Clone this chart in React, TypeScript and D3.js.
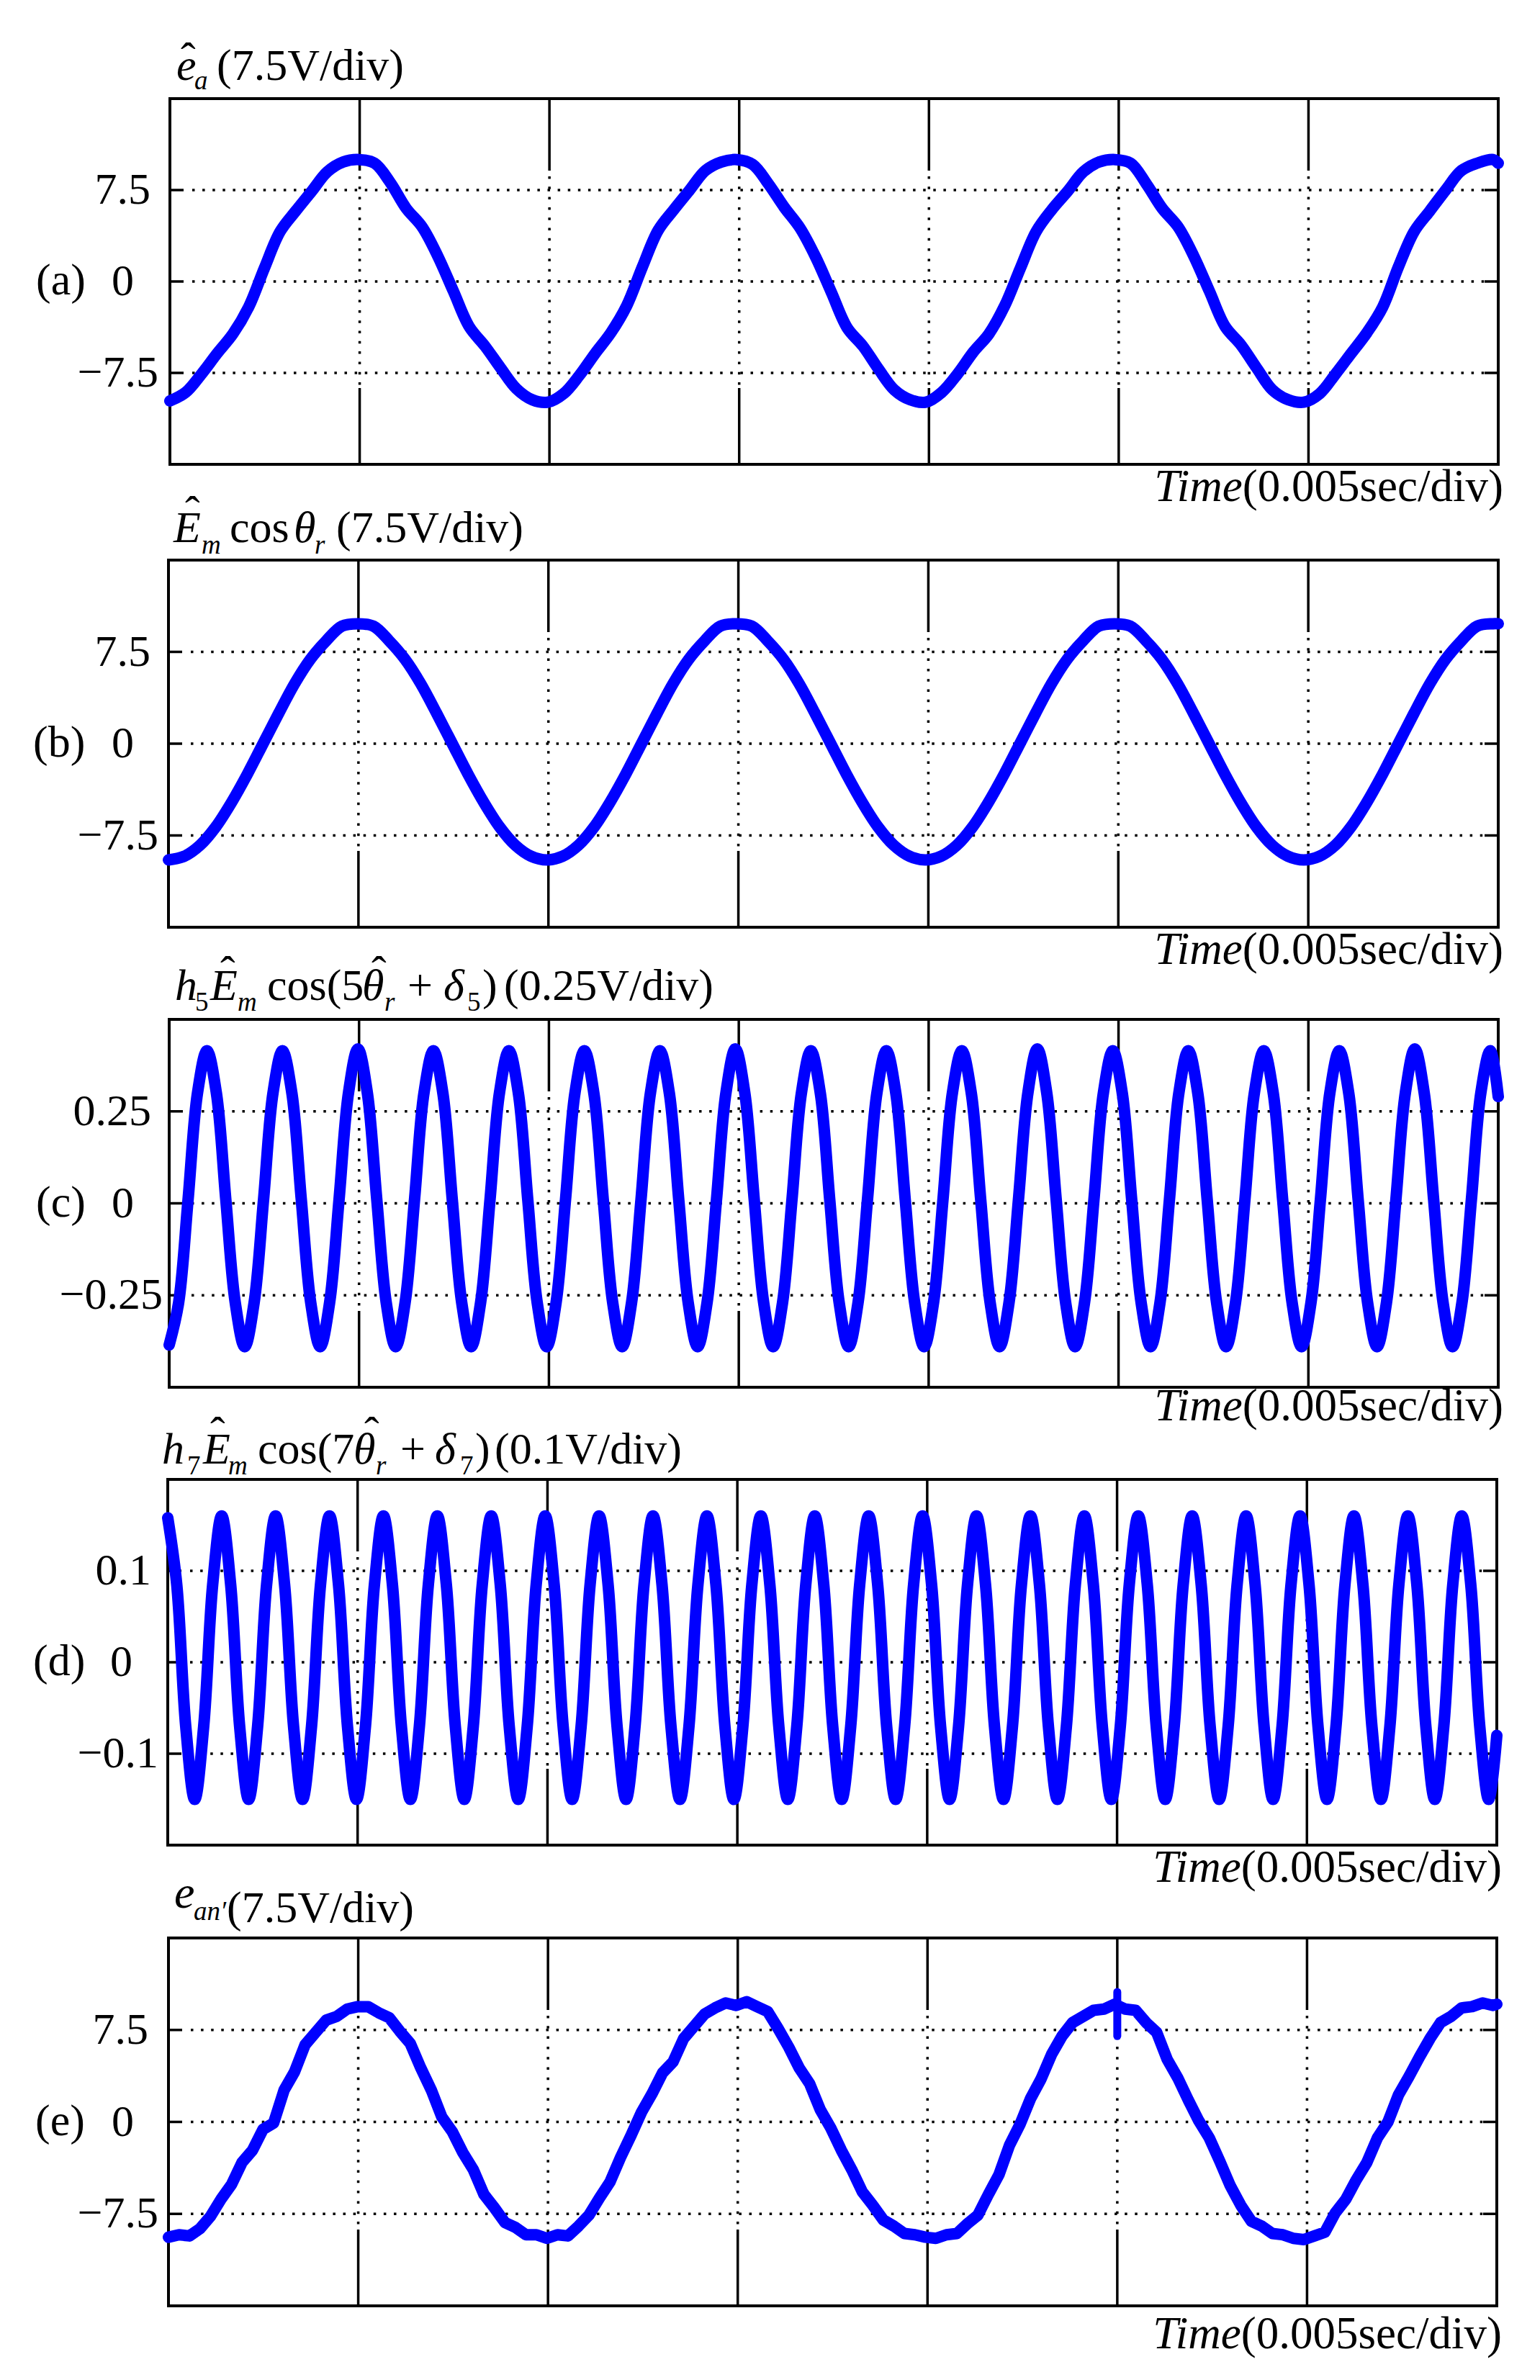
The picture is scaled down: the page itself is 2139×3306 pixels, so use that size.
import React from "react";
import * as d3 from "d3";

const timeDivs = [0, 1, 2, 3, 4, 5, 6, 7];

const eaValues = [
  -9.8, -9.1, -7.6, -5.9, -4.3, -2.1, 1.1, 4.1, 5.8, 7.4, 9.0, 9.8,
  10.0, 9.7, 8.1, 6.0, 4.5, 2.1, -0.8, -3.7, -5.3, -7.1, -8.8, -9.7,
  -9.9, -9.2, -7.7, -5.9, -4.2, -2.0, 1.2, 4.2, 5.9, 7.5, 9.1, 9.8,
  10.0, 9.6, 8.0, 6.1, 4.4, 2.0, -0.9, -3.8, -5.3, -7.2, -8.9, -9.7,
  -9.9, -9.1, -7.6, -5.8, -4.3, -2.0, 1.1, 4.1, 5.9, 7.4, 9.0, 9.8,
  10.0, 9.7, 8.0, 6.0, 4.5, 2.1, -0.8, -3.7, -5.2, -7.1, -8.9, -9.7,
  -9.9, -9.2, -7.6, -5.9, -4.2, -2.1, 1.2, 4.1, 5.8, 7.5, 9.1, 9.7,
  10.0, 9.7,
];

const emCosValues = [
  -9.5, -9.2, -8.3, -6.8, -4.8, -2.5, 0.0, 2.5, 4.9, 6.9, 8.4, 9.6,
  9.8, 9.6, 8.4, 6.9, 4.9, 2.5, 0.0, -2.5, -4.8, -6.8, -8.3, -9.2,
  -9.5, -9.2, -8.3, -6.8, -4.8, -2.5, 0.0, 2.5, 4.9, 6.9, 8.4, 9.6,
  9.8, 9.6, 8.4, 6.9, 4.9, 2.5, 0.0, -2.5, -4.8, -6.8, -8.3, -9.2,
  -9.5, -9.2, -8.3, -6.8, -4.8, -2.5, 0.0, 2.5, 4.9, 6.9, 8.4, 9.6,
  9.8, 9.6, 8.4, 6.9, 4.9, 2.5, 0.0, -2.5, -4.8, -6.8, -8.3, -9.2,
  -9.5, -9.2, -8.3, -6.8, -4.8, -2.5, 0.0, 2.5, 4.9, 6.9, 8.4, 9.6,
  9.8, 9.8,
];

const h5Values = [
  -0.385, -0.27, 0.01, 0.3, 0.415, 0.3, 0.01, -0.27,
  -0.39, -0.27, 0.01, 0.3, 0.415, 0.3, 0.01, -0.27,
  -0.39, -0.27, 0.01, 0.3, 0.42, 0.3, 0.01, -0.27,
  -0.39, -0.27, 0.01, 0.3, 0.415, 0.3, 0.01, -0.27,
  -0.39, -0.27, 0.01, 0.3, 0.415, 0.3, 0.01, -0.27,
  -0.39, -0.27, 0.01, 0.3, 0.415, 0.3, 0.01, -0.27,
  -0.39, -0.27, 0.01, 0.3, 0.415, 0.3, 0.01, -0.27,
  -0.39, -0.27, 0.01, 0.3, 0.42, 0.3, 0.01, -0.27,
  -0.39, -0.27, 0.01, 0.3, 0.415, 0.3, 0.01, -0.27,
  -0.39, -0.27, 0.01, 0.3, 0.415, 0.3, 0.01, -0.27,
  -0.39, -0.27, 0.01, 0.3, 0.415, 0.3, 0.01, -0.27,
  -0.39, -0.27, 0.01, 0.3, 0.42, 0.3, 0.01, -0.27,
  -0.39, -0.27, 0.01, 0.3, 0.415, 0.3, 0.01, -0.27,
  -0.39, -0.27, 0.01, 0.3, 0.415, 0.3, 0.01, -0.27,
  -0.39, -0.27, 0.01, 0.3, 0.415, 0.3, 0.01, -0.27,
  -0.39, -0.27, 0.01, 0.3, 0.415, 0.3, 0.01, -0.27,
  -0.39, -0.27, 0.01, 0.3, 0.42, 0.3, 0.01, -0.27,
  -0.39, -0.27, 0.01, 0.3, 0.415, 0.29,
];

const h7Values = [
  0.158, 0.085, -0.07, -0.15, -0.07, 0.085,
  0.16, 0.085, -0.07, -0.15, -0.07, 0.085,
  0.16, 0.085, -0.07, -0.15, -0.07, 0.085,
  0.16, 0.085, -0.07, -0.15, -0.07, 0.085,
  0.16, 0.085, -0.07, -0.15, -0.07, 0.085,
  0.16, 0.085, -0.07, -0.15, -0.07, 0.085,
  0.16, 0.085, -0.07, -0.15, -0.07, 0.085,
  0.16, 0.085, -0.07, -0.15, -0.07, 0.085,
  0.16, 0.085, -0.07, -0.15, -0.07, 0.085,
  0.16, 0.085, -0.07, -0.15, -0.07, 0.085,
  0.16, 0.085, -0.07, -0.15, -0.07, 0.085,
  0.16, 0.085, -0.07, -0.15, -0.07, 0.085,
  0.16, 0.085, -0.07, -0.15, -0.07, 0.085,
  0.16, 0.085, -0.07, -0.15, -0.07, 0.085,
  0.16, 0.085, -0.07, -0.15, -0.07, 0.085,
  0.16, 0.085, -0.07, -0.15, -0.07, 0.085,
  0.16, 0.085, -0.07, -0.15, -0.07, 0.085,
  0.16, 0.085, -0.07, -0.15, -0.07, 0.085,
  0.16, 0.085, -0.07, -0.15, -0.07, 0.085,
  0.16, 0.085, -0.07, -0.15, -0.07, 0.085,
  0.16, 0.085, -0.07, -0.15, -0.07, 0.085,
  0.16, 0.085, -0.07, -0.15, -0.07, 0.085,
  0.16, 0.085, -0.07, -0.15, -0.07, 0.085,
  0.16, 0.085, -0.07, -0.15, -0.07, 0.085,
  0.16, 0.085, -0.07, -0.15, -0.08,
];

const eanValues = [
  -9.4, -9.2, -9.3, -8.7, -7.7, -6.3, -5.1, -3.3, -2.3, -0.6, -0.1, 2.6,
  4.1, 6.3, 7.3, 8.3, 8.6, 9.2, 9.4, 9.4, 8.9, 8.5, 7.4, 6.4,
  4.4, 2.6, 0.4, -0.8, -2.5, -3.9, -5.9, -7.0, -8.2, -8.6, -9.2, -9.2,
  -9.5, -9.2, -9.3, -8.5, -7.6, -6.2, -4.9, -2.9, -1.1, 0.8, 2.3, 4.0,
  4.9, 6.8, 7.8, 8.8, 9.3, 9.7, 9.5, 9.8, 9.4, 9.0, 7.6, 6.1,
  4.4, 3.1, 1.0, -0.5, -2.3, -3.9, -5.7, -6.8, -8.0, -8.5, -9.1, -9.2,
  -9.4, -9.5, -9.2, -9.1, -8.3, -7.6, -5.9, -4.3, -1.9, -0.2, 1.9, 3.5,
  5.5, 7.0, 8.1, 8.6, 9.1, 9.2, 9.6, 9.2, 9.1, 8.1, 7.3, 5.1,
  3.6, 1.8, 0.1, -1.3, -3.2, -5.2, -6.8, -8.1, -8.5, -9.1, -9.2, -9.5,
  -9.6, -9.3, -9.0, -7.4, -6.3, -4.7, -3.3, -1.3, 0.0, 2.2, 3.7, 5.3,
  6.8, 8.1, 8.6, 9.3, 9.4, 9.7, 9.5, 9.6,
];
const eanSpikeTimes = [5, 5];
const eanSpikeValues = [10.6, 7.0];

const panelLetters = ["(a)", "(b)", "(c)", "(d)", "(e)"];
const yTicksA = ["7.5", "0", "\u22127.5"];
const yTicksC = ["0.25", "0", "\u22120.25"];
const yTicksD = ["0.1", "0", "\u22120.1"];
const gridStepA = 7.5;
const gridStepC = 0.25;
const gridStepD = 0.1;

type Piece = { t: string; x: number; y: number; s?: number; i?: boolean };
const MAIN = 62;
const TIME_SIZE = 63;
const SUB = 37;

const titleA: Piece[] = [
  { t: "e", x: 245, y: 111, i: true },
  { t: "\u02c6", x: 251, y: 102 },
  { t: "a", x: 270, y: 124, s: SUB, i: true },
  { t: "(7.5V/div)", x: 301, y: 111 },
];
const titleB: Piece[] = [
  { t: "E", x: 241, y: 753, i: true },
  { t: "\u02c6", x: 257, y: 732 },
  { t: "m", x: 280, y: 769, s: SUB, i: true },
  { t: "cos", x: 319, y: 753 },
  { t: "\u03b8", x: 408, y: 753, i: true },
  { t: "r", x: 437, y: 769, s: SUB, i: true },
  { t: "(7.5V/div)", x: 467, y: 753 },
];
const titleC: Piece[] = [
  { t: "h", x: 243, y: 1389, i: true },
  { t: "5", x: 271, y: 1404, s: SUB },
  { t: "E", x: 292, y: 1389, i: true },
  { t: "\u02c6", x: 306, y: 1371 },
  { t: "m", x: 330, y: 1404, s: SUB, i: true },
  { t: "cos(5", x: 371, y: 1389 },
  { t: "\u03b8", x: 503, y: 1389, i: true },
  { t: "\u02c6", x: 516, y: 1371 },
  { t: "r", x: 534, y: 1404, s: SUB, i: true },
  { t: "+", x: 566, y: 1389 },
  { t: "\u03b4", x: 616, y: 1389, i: true },
  { t: "5", x: 649, y: 1404, s: SUB },
  { t: ")", x: 670, y: 1389 },
  { t: "(0.25V/div)", x: 700, y: 1389 },
];
const titleD: Piece[] = [
  { t: "h", x: 225, y: 2033, i: true },
  { t: "7", x: 260, y: 2048, s: SUB },
  { t: "E", x: 282, y: 2033, i: true },
  { t: "\u02c6", x: 292, y: 2011 },
  { t: "m", x: 317, y: 2048, s: SUB, i: true },
  { t: "cos(7", x: 358, y: 2033 },
  { t: "\u03b8", x: 491, y: 2033, i: true },
  { t: "\u02c6", x: 506, y: 2011 },
  { t: "r", x: 522, y: 2048, s: SUB, i: true },
  { t: "+", x: 556, y: 2033 },
  { t: "\u03b4", x: 604, y: 2033, i: true },
  { t: "7", x: 639, y: 2048, s: SUB },
  { t: ")", x: 660, y: 2033 },
  { t: "(0.1V/div)", x: 687, y: 2033 },
];
const titleE: Piece[] = [
  { t: "e", x: 242, y: 2650, s: 64, i: true },
  { t: "an\u2032", x: 269, y: 2667, s: SUB, i: true },
  { t: "(7.5V/div)", x: 315, y: 2670 },
];

const panels = [
  { values: eaValues, step: 0.083, dom: 15, grid: gridStepA, ticks: yTicksA, x0: 236, x1: 2081, y0: 137, y1: 645, title: titleA, timeY: 696, timeR: 2088, lx: 50, r: [209, 186, 220], curve: d3.curveCatmullRom },
  { values: emCosValues, step: 0.083, dom: 15, grid: gridStepA, ticks: yTicksA, x0: 234, x1: 2081, y0: 778, y1: 1288, title: titleB, timeY: 1339, timeR: 2088, lx: 46, r: [209, 186, 220], curve: d3.curveCatmullRom },
  { values: h5Values, step: 0.0497, dom: 0.5, grid: gridStepC, ticks: yTicksC, x0: 235, x1: 2081, y0: 1416, y1: 1927, title: titleC, timeY: 1973, timeR: 2088, lx: 50, r: [210, 186, 226], curve: d3.curveCatmullRom },
  { values: h7Values, step: 0.04733, dom: 0.2, grid: gridStepD, ticks: yTicksD, x0: 233, x1: 2079, y0: 2055, y1: 2563, title: titleD, timeY: 2614, timeR: 2086, lx: 46, r: [210, 184, 220], curve: d3.curveCatmullRom },
  { values: eanValues, step: 0.0554, dom: 15, grid: gridStepA, ticks: yTicksA, x0: 234, x1: 2079, y0: 2692, y1: 3203, title: titleE, timeY: 3262, timeR: 2086, lx: 49, r: [206, 186, 220], curve: d3.curveLinear },
];

const FONT = '"Liberation Serif", "Times New Roman", serif';
const BLUE = "#0000ff";

function Panel({ p, idx }: { p: (typeof panels)[number]; idx: number }) {
  const x = d3.scaleLinear().domain([0, 7]).range([p.x0, p.x1]);
  const y = d3.scaleLinear().domain([-p.dom, p.dom]).range([p.y1, p.y0]);
  const line = d3
    .line<number>()
    .x((_, i) => x(Math.min(i * p.step, 7)))
    .y((v) => y(v))
    .curve(p.curve);
  const gridVals = [p.grid, 0, -p.grid];
  const inner = timeDivs.slice(1, 7);
  const spike = idx === 4;
  const topTick = 100;
  const botTick = 106;
  const yTick = 19;
  return (
    <g fontFamily={FONT} fill="#000">
      {gridVals.map((g) => (
        <g key={g}>
          <line x1={p.x0 + yTick + 12} x2={p.x1 - yTick} y1={y(g)} y2={y(g)} stroke="#000" strokeWidth={3.5} strokeDasharray="3.5 10.6" />
          <line x1={p.x0} x2={p.x0 + yTick} y1={y(g)} y2={y(g)} stroke="#000" strokeWidth={3.5} />
          <line x1={p.x1 - yTick} x2={p.x1} y1={y(g)} y2={y(g)} stroke="#000" strokeWidth={3.5} />
        </g>
      ))}
      {inner.map((d) => (
        <g key={d}>
          <line x1={x(d)} x2={x(d)} y1={p.y0 + topTick + 8} y2={p.y1 - botTick} stroke="#000" strokeWidth={3.5} strokeDasharray="3.5 10.8" />
          <line x1={x(d)} x2={x(d)} y1={p.y0} y2={p.y0 + topTick} stroke="#000" strokeWidth={3.5} />
          <line x1={x(d)} x2={x(d)} y1={p.y1 - botTick} y2={p.y1} stroke="#000" strokeWidth={3.5} />
        </g>
      ))}
      <rect x={p.x0} y={p.y0} width={p.x1 - p.x0} height={p.y1 - p.y0} fill="none" stroke="#000" strokeWidth={4} />
      <path d={line(p.values) ?? ""} fill="none" stroke={BLUE} strokeWidth={16} strokeLinecap="round" strokeLinejoin="round" />
      {spike && (
        <line x1={x(eanSpikeTimes[0])} x2={x(eanSpikeTimes[1])} y1={y(eanSpikeValues[0])} y2={y(eanSpikeValues[1])} stroke={BLUE} strokeWidth={11} strokeLinecap="round" />
      )}
      {p.ticks.map((t, i) => (
        <text key={t} x={p.r[i]} y={y(gridVals[i]) + 19} textAnchor="end" fontSize={MAIN}>
          {t}
        </text>
      ))}
      <text x={p.lx} y={y(0) + 18} fontSize={MAIN}>
        {panelLetters[idx]}
      </text>
      <text fontSize={MAIN}>
        {p.title.map((c, i) => (
          <tspan key={i} x={c.x} y={c.y} fontSize={c.s ?? MAIN} fontStyle={c.i ? "italic" : "normal"}>
            {c.t}
          </tspan>
        ))}
      </text>
      <text x={p.timeR} y={p.timeY} textAnchor="end" fontSize={TIME_SIZE}>
        <tspan fontStyle="italic">Time</tspan>
        <tspan>(0.005sec/div)</tspan>
      </text>
    </g>
  );
}

export default function App() {
  return (
    <svg width={2139} height={3306} viewBox="0 0 2139 3306" style={{ position: "absolute", left: 0, top: 0, background: "#fff" }}>
      {panels.map((p, i) => (
        <Panel key={i} p={p} idx={i} />
      ))}
    </svg>
  );
}
